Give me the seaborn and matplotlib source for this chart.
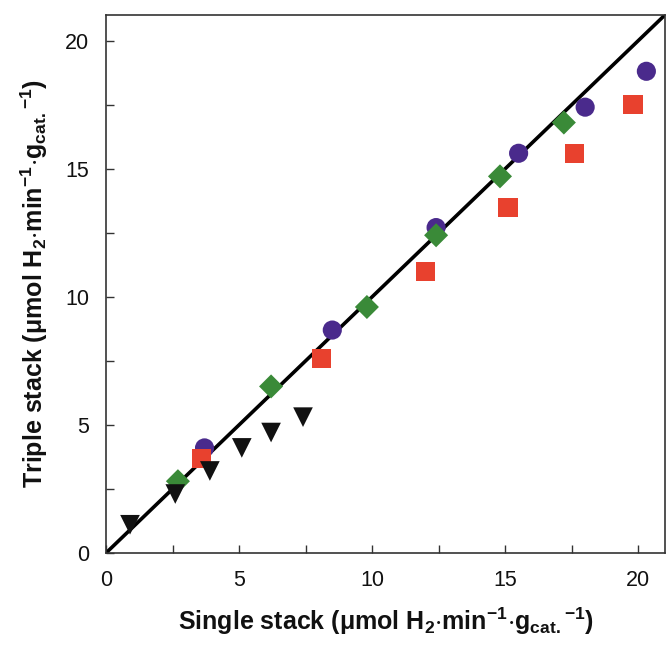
import pandas as pd
import matplotlib
matplotlib.use('Agg')
import matplotlib.pyplot as plt
import seaborn as sns

# values
circle_x = [3.7, 8.5, 12.4, 15.5, 18.0, 20.3]
circle_y = [4.1, 8.7, 12.7, 15.6, 17.4, 18.8]
square_x = [3.6, 8.1, 12.0, 15.1, 17.6, 19.8]
square_y = [3.7, 7.6, 11.0, 13.5, 15.6, 17.5]
diamond_x = [2.7, 6.2, 9.8, 12.4, 14.8, 17.2]
diamond_y = [2.8, 6.5, 9.6, 12.4, 14.7, 16.8]
tri_x = [0.9, 2.6, 3.9, 5.1, 6.2, 7.4]
tri_y = [1.1, 2.3, 3.2, 4.1, 4.7, 5.3]
parity_x = [0, 21]
parity_y = [0, 21]

series = {
    'circle': (circle_x, circle_y),
    'square': (square_x, square_y),
    'diamond': (diamond_x, diamond_y),
    'triangle': (tri_x, tri_y),
}
rows = []
for name, (xs, ys) in series.items():
    for x, y in zip(xs, ys):
        rows.append({'single': x, 'triple': y, 'set': name})
df = pd.DataFrame(rows)

sns.set_style('ticks')
plt.rcParams['font.family'] = ['Liberation Sans', 'DejaVu Sans']
plt.rcParams['mathtext.default'] = 'regular'
plt.rcParams['axes.unicode_minus'] = False

fig = plt.figure(figsize=(6.67, 6.49), dpi=100)
ax = fig.add_axes([0.159, 0.148, 0.838, 0.829])

ax.plot(parity_x, parity_y, color='black', lw=2.6, zorder=1)

colors = {'circle': '#4a2a8c', 'square': '#e8412e', 'diamond': '#3a8a38', 'triangle': '#111111'}
markers = {'circle': 'o', 'square': 's', 'diamond': 'D', 'triangle': 'v'}
sizes = {'circle': 190, 'square': 190, 'diamond': 150, 'triangle': 200}
for name in ['circle', 'square', 'diamond', 'triangle']:
    sub = df[df['set'] == name]
    sns.scatterplot(data=sub, x='single', y='triple', ax=ax, color=colors[name],
                    marker=markers[name], s=sizes[name], edgecolor='none',
                    linewidth=0, zorder=3, legend=False)

ax.set_xlim(0, 21)
ax.set_ylim(0, 21)
ax.set_xticks([0, 5, 10, 15, 20])
ax.set_yticks([0, 5, 10, 15, 20])
ax.set_xticks([2.5, 7.5, 12.5, 17.5], minor=True)
ax.set_yticks([2.5, 7.5, 12.5, 17.5], minor=True)
ax.tick_params(which='both', direction='in', length=6, width=1, labelsize=15.5,
               color='#333333', labelcolor='#111111')
ax.tick_params(axis='x', pad=12)
ax.tick_params(axis='y', pad=12)
for sp in ax.spines.values():
    sp.set_visible(True)
    sp.set_linewidth(1.2)
    sp.set_color('#333333')

ax.set_xlabel(r'Single stack ($\mu$mol H$_2$$\cdot$min$^{-1}$$\cdot$g$_{cat.}$$^{-1}$)',
              fontsize=18, fontweight='bold', labelpad=11, color='#111111')
ax.set_ylabel(r'Triple stack ($\mu$mol H$_2$$\cdot$min$^{-1}$$\cdot$g$_{cat.}$$^{-1}$)',
              fontsize=18, fontweight='bold', labelpad=11, color='#111111')

fig.savefig('out.png', dpi=100)
